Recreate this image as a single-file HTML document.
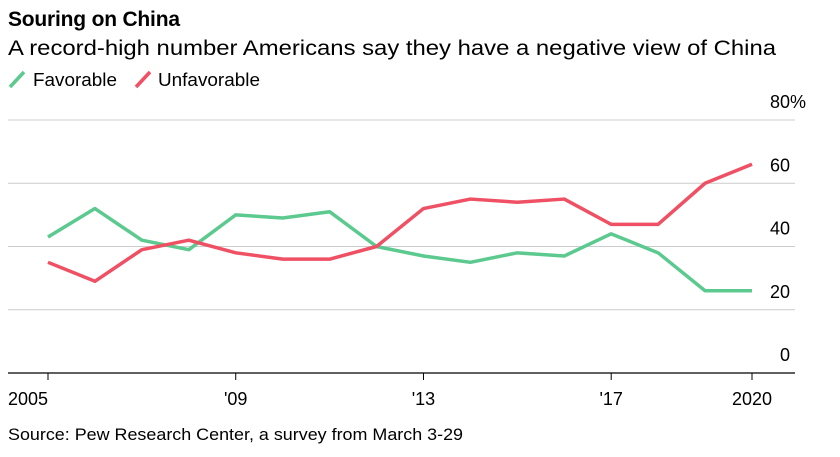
<!DOCTYPE html>
<html><head><meta charset="utf-8"><style>
body{margin:0;background:#fff;font-family:"Liberation Sans",Arial,sans-serif;}
svg text{font-family:"Liberation Sans",Arial,sans-serif;}
</style></head><body>
<svg width="840" height="452" viewBox="0 0 840 452">
<text x="8" y="26" font-size="21" font-weight="bold" fill="#000" textLength="172">Souring on China</text>
<text x="8" y="55" font-size="21" fill="#000" textLength="768" lengthAdjust="spacingAndGlyphs">A record-high number Americans say they have a negative view of China</text>
<g>
<g><line x1="10" y1="87" x2="24" y2="72" stroke="#5cc98f" stroke-width="3.5"/><text x="33" y="86" font-size="18" fill="#000" textLength="84" lengthAdjust="spacingAndGlyphs">Favorable</text></g>
<g><line x1="136" y1="87" x2="150" y2="72" stroke="#ef5064" stroke-width="3.5"/><text x="158" y="86" font-size="18" fill="#000" textLength="102" lengthAdjust="spacingAndGlyphs">Unfavorable</text></g>
</g>
<g id="grid"></g>
<g id="xaxis"></g>
<g id="series"></g>
<text x="8" y="440" font-size="17" fill="#000" textLength="455" lengthAdjust="spacingAndGlyphs">Source: Pew Research Center, a survey from March 3-29</text>
</svg>
<script>
const years=[2005,2006,2007,2008,2009,2010,2011,2012,2013,2014,2015,2016,2017,2018,2019,2020];
const favorable=[43,52,42,39,50,49,51,40,37,35,38,37,44,38,26,26];
const unfavorable=[35,29,39,42,38,36,36,40,52,55,54,55,47,47,60,66];
const yTicks=[0,20,40,60,80];
const yTickLabels=["0","20","40","60","80"];
const xTickYears=[2005,2009,2013,2017,2020];
const xTickLabels=["2005","'09","'13","'17","2020"];
const NS="http://www.w3.org/2000/svg";
const x=v=>48+(v-2005)*(704/15);
const y=v=>373-v*3.1625;
function mk(t,a,p){const e=document.createElementNS(NS,t);for(const k in a)e.setAttribute(k,a[k]);p.appendChild(e);return e;}
const grid=document.getElementById('grid');
yTicks.forEach((t,i)=>{
 const l=mk('line',{x1:8,x2:795,y1:y(t),y2:y(t),stroke:t===0?'#000':'#ccc','stroke-width':t===0?1.2:1},grid);
 
 
 const tx=mk('text',{x:790,y:y(t)-12,'font-size':18,'text-anchor':'end',fill:'#000'},grid);
 tx.textContent=yTickLabels[i];
 
 
 if(t===80){
  const pc=mk('text',{x:790,y:y(t)-12,'font-size':18,fill:'#000'},grid);
  pc.textContent='%';
  
  
 }
});
const xa=document.getElementById('xaxis');
xTickYears.forEach((yr,i)=>{
 const l=mk('line',{x1:x(yr),x2:x(yr),y1:373,y2:380,stroke:'#000','stroke-width':1},xa);
 
 
 const first=i===0;
 const tx=mk('text',{x:first?8:x(yr),y:405,'font-size':18,'text-anchor':first?'start':'middle',fill:'#000'},xa);
 tx.textContent=xTickLabels[i];
 
 
});
const s=document.getElementById('series');
[[favorable,'#5cc98f','favorable-line'],[unfavorable,'#ef5064','unfavorable-line']].forEach(([d,c,n])=>{
 const p=mk('polyline',{points:d.map((v,i)=>x(years[i])+','+y(v)).join(' '),fill:'none',stroke:c,'stroke-width':3.5,'stroke-linejoin':'round'},s);
 
 
});
</script>
</body></html>
